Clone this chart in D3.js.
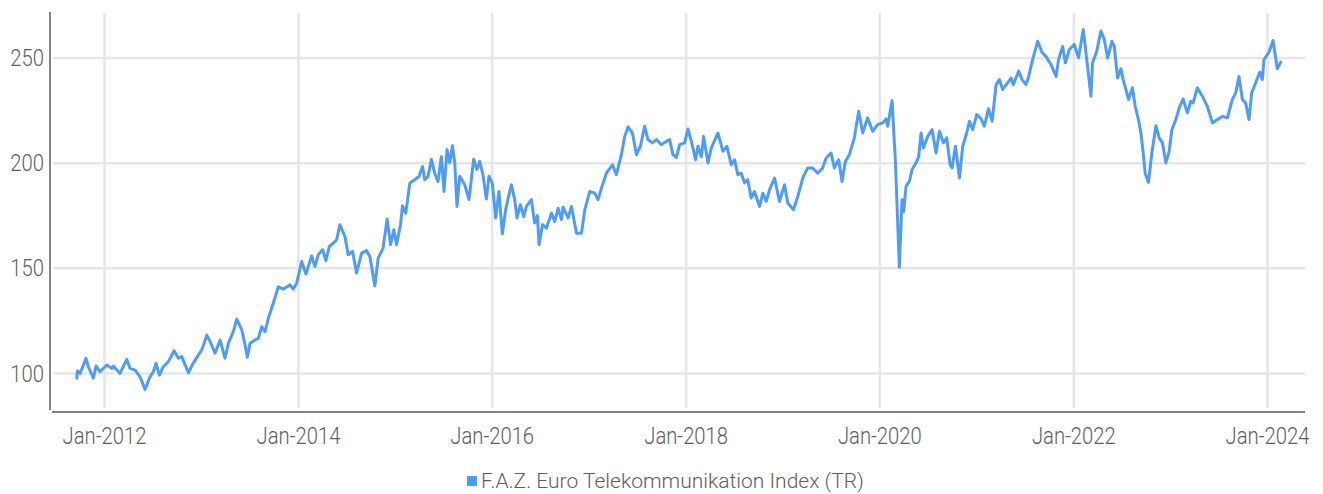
<!DOCTYPE html>
<html>
<head>
<meta charset="utf-8">
<script src="https://cdn.jsdelivr.net/npm/d3@7/dist/d3.min.js"></script>
<style>
  html, body { margin: 0; padding: 0; background: #fff; }
  svg { display: block; }
  text { font-family: Roboto, "Noto Sans", sans-serif; font-weight: 300; fill: #5e5e5e; }
</style>
</head>
<body>
<svg id="chart" width="1323" height="494"></svg>
<script>
// ---- data (decimal year, index value) ----
const seriesName = "F.A.Z. Euro Telekommunikation Index (TR)";
const yTicks = [100, 150, 200, 250];
const xTickYears = [2012, 2014, 2016, 2018, 2020, 2022, 2024];
const decYears = [
2011.719,2011.725,2011.753,2011.814,2011.838,2011.890,2011.918,2011.959,2012.028,2012.079,2012.096,2012.165,2012.234,2012.268,2012.320,2012.371,2012.423,2012.474,2012.508,2012.536,2012.570,2012.611,2012.663,2012.722,2012.766,2012.801,2012.869,2012.914,2012.972,2013.007,2013.059,2013.093,2013.144,2013.196,2013.247,2013.281,2013.333,2013.368,2013.420,2013.454,2013.477,2013.505,2013.557,2013.591,2013.626,2013.660,2013.694,2013.745,2013.797,
2013.848,2013.918,2013.952,2013.987,2014.038,2014.082,2014.141,2014.175,2014.209,2014.255,2014.289,2014.323,2014.364,2014.399,2014.433,2014.485,2014.519,2014.564,2014.605,2014.657,2014.708,2014.742,2014.794,2014.828,2014.879,2014.921,2014.956,2014.990,2015.018,2015.059,2015.079,2015.113,2015.155,2015.206,2015.251,2015.286,2015.309,2015.343,2015.378,2015.412,2015.446,2015.481,2015.508,2015.539,2015.567,2015.595,2015.619,2015.642,2015.670,2015.722,2015.766,2015.814,
2015.848,2015.876,2015.910,2015.945,2015.972,2016.007,2016.041,2016.075,2016.110,2016.144,2016.178,2016.203,2016.237,2016.261,2016.296,2016.330,2016.358,2016.409,2016.443,2016.471,2016.488,2016.523,2016.564,2016.616,2016.649,2016.684,2016.719,2016.735,2016.787,2016.822,2016.873,2016.925,2016.959,2017.010,2017.062,2017.096,2017.131,2017.182,2017.244,2017.285,2017.337,2017.371,2017.405,2017.451,2017.492,2017.533,2017.577,2017.611,2017.657,2017.698,2017.749,2017.801,2017.835,2017.869,2017.904,2017.938,
2017.990,2018.024,2018.059,2018.103,2018.127,2018.162,2018.186,2018.230,2018.265,2018.333,2018.385,2018.426,2018.471,2018.505,2018.539,2018.574,2018.608,2018.642,2018.677,2018.711,2018.763,2018.797,2018.832,2018.866,2018.918,2018.969,2019.021,2019.055,2019.113,2019.158,2019.209,2019.261,2019.312,2019.364,2019.415,2019.451,2019.502,2019.536,2019.580,2019.615,2019.649,2019.691,2019.742,2019.787,2019.828,2019.879,2019.931,2019.982,
2020.034,2020.069,2020.086,2020.131,2020.155,2020.165,2020.206,2020.224,2020.234,2020.251,2020.275,2020.309,2020.337,2020.378,2020.405,2020.430,2020.454,2020.498,2020.543,2020.584,2020.619,2020.660,2020.694,2020.729,2020.749,2020.784,2020.825,2020.859,2020.900,2020.928,2020.962,2021.003,2021.048,2021.082,2021.124,2021.162,2021.203,2021.237,2021.271,2021.323,2021.358,2021.381,2021.436,2021.471,2021.512,2021.539,2021.580,2021.632,2021.677,2021.719,2021.770,2021.822,2021.848,2021.890,2021.918,2021.959,2022.010,2022.054,
2022.103,2022.147,2022.182,2022.199,2022.240,2022.285,2022.320,2022.354,2022.399,2022.423,2022.457,2022.492,2022.515,2022.543,2022.570,2022.611,2022.639,2022.673,2022.698,2022.722,2022.742,2022.776,2022.811,2022.853,2022.887,2022.921,2022.956,2022.990,2023.018,2023.059,2023.093,2023.134,2023.178,2023.213,2023.237,2023.281,2023.333,2023.384,2023.436,2023.488,2023.539,2023.591,2023.642,2023.677,2023.711,2023.746,2023.780,2023.814,2023.842,2023.883,2023.925,2023.952,2023.969,2024.021,2024.062,2024.106,2024.141
];
const indexValues = [
97.5,101,99.8,107,103,97.5,103.3,100.6,103.8,102.2,103.3,99.8,106.5,102.2,101.4,98.2,92.2,98.2,100.6,104.6,99,103,105.4,110.6,107,107.8,100.1,104.3,108.6,111,118,114.9,109.4,115.7,107,114.1,119.7,125.6,120.5,113.3,107.5,114.1,115.7,116.5,122,119.7,126,133.2,141,
139.9,141.9,139.9,142.7,153,147.1,155.7,150.6,156.2,158.6,153.5,160.1,161.8,163.3,170.5,164.9,156.2,157.8,147.5,157,158.2,155.4,141.4,154.6,159.4,173.2,161,168.1,161,170.5,179.5,176,190.3,191.9,193.5,198.2,191.9,193.5,201.6,195,191,202.8,186.3,206.2,199.9,208.1,199.9,179.2,193.5,189.5,182.4,201.6,
196.7,200.6,194.3,182.7,193.5,190.3,173.7,186.3,166.2,177.6,184.8,189.5,182.4,173.7,180,174.4,179.2,182.4,171.3,174.8,161,170.5,168.9,176,172,178.3,172.9,178.8,173.7,179.2,166.5,166.5,177.6,186.3,185.5,182.4,187.9,195,199,194.3,203.8,212.5,217,214.1,203.8,207.8,217.3,211,209.4,211,208.6,210.1,211,203.8,202.5,208.6,
209.4,216,210.1,201.4,207.8,202.8,212.5,199.9,207,214.1,205.4,207.8,199,201.4,194.3,195,190.3,191.9,183.2,186.3,179.2,185.5,181.6,187.1,192.7,181.6,189.5,180.8,177.6,183.9,192.7,197.5,197.5,195,197.5,202.2,204.6,197.5,201.4,191,200.6,203.8,211.8,224.4,214.1,221.3,214.9,218.1,
218.9,220.8,217.3,229.5,209.4,201.4,150.3,171.3,182.4,176.8,188.7,191,196.7,199.9,202.8,214.1,207,212.5,215.7,204.6,214.9,209.4,211.8,199,197.5,207.8,192.7,207.8,214.1,219.7,215.7,222.9,220.8,217.3,225.6,219.7,237.1,239.5,234.8,238,240.3,237.1,243.5,239.5,237.1,241,249,257.7,252.4,250.4,246.6,241,249,255.3,247.5,253.8,256.2,249.8,
263.3,245.8,231.6,247.5,252.6,262.6,258.6,249.8,257.7,255.3,240.3,244.6,239.5,234.8,230,235.6,226.8,220.5,214.1,204.6,195,190.6,204.6,217.6,211.8,209.4,199.9,205.4,215.7,220.5,226,230.3,223.7,229.2,228.4,235.6,231.6,226.8,218.9,220.5,222,221.3,230,233.2,241,230,228.4,220.5,233.2,238,243,239.5,249,252.6,258.1,244.6,247.8
];

function decToDate(d) {
  const y = Math.floor(d);
  const a = Date.UTC(y, 0, 1), b = Date.UTC(y + 1, 0, 1);
  return new Date(a + (d - y) * (b - a));
}
const data = decYears.map((d, i) => ({ date: decToDate(d), value: indexValues[i] }));

const svg = d3.select("#chart");

const x = d3.scaleUtc()
  .domain([new Date(Date.UTC(2012, 0, 1)), new Date(Date.UTC(2024, 0, 1))])
  .range([104, 1267]);
const y = d3.scaleLinear().domain([100, 250]).range([373, 57.5]);

const plotLeft = 53, plotRight = 1305, plotTop = 13, plotBottom = 408;
const gridColor = "#e6e6e6";
const textColor = "#5e5e5e";
const lineColor = "#4f9cf8";

// horizontal gridlines
svg.append("g")
  .attr("transform", `translate(${plotLeft},0)`)
  .call(d3.axisLeft(y).tickValues(yTicks).tickSize(-(plotRight - plotLeft)).tickFormat(""))
  .call(g => g.select(".domain").remove())
  .call(g => g.selectAll("line").attr("stroke", gridColor).attr("stroke-width", 2.5));

// vertical gridlines
const xTickDates = xTickYears.map(yr => new Date(Date.UTC(yr, 0, 1)));
svg.append("g")
  .attr("transform", `translate(0,${plotBottom})`)
  .call(d3.axisBottom(x).tickValues(xTickDates).tickSize(-(plotBottom - plotTop)).tickFormat(""))
  .call(g => g.select(".domain").remove())
  .call(g => g.selectAll("line").attr("stroke", gridColor).attr("stroke-width", 2.5));

// axis lines
svg.append("line").attr("x1", 50).attr("x2", 50).attr("y1", 12).attr("y2", 410)
  .attr("stroke", "#858585").attr("stroke-width", 2);
svg.append("line").attr("x1", 52).attr("x2", 1305).attr("y1", 412).attr("y2", 412)
  .attr("stroke", "#858585").attr("stroke-width", 2);

const sx = 0.88;
const tickFont = "23px";
// y tick labels
svg.append("g")
  .attr("transform", `translate(44,0)`)
  .call(d3.axisLeft(y).tickValues(yTicks).tickSize(0).tickPadding(0).tickFormat(d3.format("d")))
  .call(g => g.select(".domain").remove())
  .call(g => g.selectAll("text")
    .attr("x", 0).attr("dy", "0.35em")
    .attr("transform", `scale(${sx},1)`)
    .style("font-size", tickFont).style("font-family", "Roboto").style("font-weight", 300)
    .attr("fill", textColor));

// x tick labels
svg.append("g")
  .attr("transform", `translate(0,428)`)
  .call(d3.axisBottom(x).tickValues(xTickDates).tickSize(0).tickPadding(0).tickFormat(d3.utcFormat("%b-%Y")))
  .call(g => g.select(".domain").remove())
  .call(g => g.selectAll("text")
    .attr("y", 0).attr("dy", "0.71em")
    .attr("transform", `scale(${sx},1)`)
    .style("font-size", tickFont).style("font-family", "Roboto").style("font-weight", 300)
    .attr("fill", textColor));

// line
const line = d3.line().x(d => x(d.date)).y(d => y(d.value));
svg.append("path")
  .datum(data)
  .attr("fill", "none")
  .attr("stroke", lineColor)
  .attr("stroke-width", 3)
  .attr("stroke-linejoin", "round")
  .attr("stroke-linecap", "round")
  .attr("d", line);

// legend
const legend = svg.append("g").attr("transform", "translate(467,481)");
legend.append("rect").attr("x", 0).attr("y", -5).attr("width", 10).attr("height", 10).attr("fill", lineColor);
legend.append("text").attr("x", 14).attr("y", 0).attr("dy", "0.35em")
  .style("font-size", "21px").style("font-weight", 300).attr("fill", textColor)
  .text(seriesName);
</script>
</body>
</html>
